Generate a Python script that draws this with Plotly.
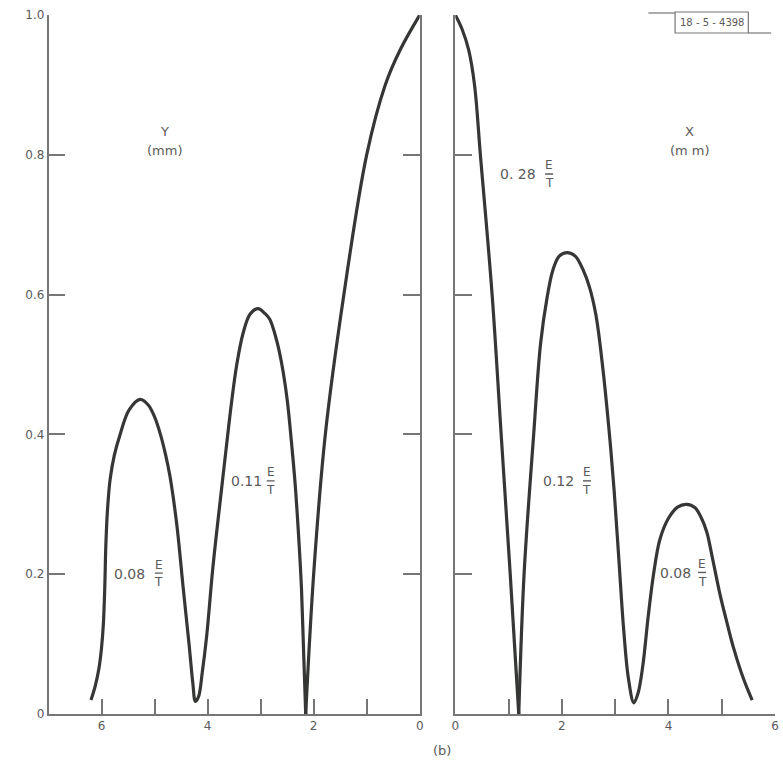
import plotly.graph_objects as go

# Relative amplitude profiles along the two transverse directions
Y_DIST = [6.20, 6.12, 6.05, 6.00, 5.965, 5.94, 5.92, 5.89, 5.84, 5.76, 5.65, 5.48, 5.27,
          5.12, 5.00, 4.89, 4.79, 4.71, 4.58, 4.46, 4.35, 4.28, 4.23, 4.17, 4.10, 4.02,
          3.90, 3.77, 3.65, 3.55, 3.45, 3.33, 3.20, 3.05, 2.92, 2.83, 2.70, 2.60, 2.50,
          2.42, 2.35, 2.28, 2.23, 2.19, 2.15, 2.00, 1.78, 1.43, 1.00, 0.65, 0.37, 0.0]
Y_AMP = [0.02, 0.04, 0.065, 0.095, 0.13, 0.18, 0.24, 0.29, 0.335, 0.37, 0.40, 0.435, 0.45,
         0.442, 0.425, 0.40, 0.37, 0.34, 0.27, 0.18, 0.10, 0.045, 0.018, 0.025, 0.06, 0.11,
         0.21, 0.30, 0.38, 0.445, 0.50, 0.545, 0.572, 0.58, 0.573, 0.565, 0.535, 0.50, 0.45,
         0.39, 0.33, 0.25, 0.18, 0.09, 0.0, 0.20, 0.40, 0.60, 0.80, 0.90, 0.95, 1.0]

X_DIST = [0.0, 0.125, 0.25, 0.36, 0.47, 0.69, 0.86, 1.03, 1.19, 1.29, 1.47, 1.60, 1.72,
          1.83, 1.95, 2.10, 2.25, 2.40, 2.52, 2.64, 2.76, 2.88, 2.98, 3.07, 3.16, 3.25,
          3.35, 3.43, 3.52, 3.62, 3.72, 3.84, 4.00, 4.17, 4.34, 4.50, 4.62, 4.72, 4.82,
          4.97, 5.10, 5.22, 5.41, 5.57]
X_AMP = [1.0, 0.98, 0.95, 0.90, 0.80, 0.60, 0.40, 0.20, 0.0, 0.20, 0.40, 0.53, 0.595,
         0.635, 0.655, 0.66, 0.655, 0.635, 0.61, 0.57, 0.50, 0.41, 0.32, 0.22, 0.12, 0.05,
         0.016, 0.03, 0.07, 0.14, 0.20, 0.25, 0.28, 0.296, 0.30, 0.295, 0.28, 0.26, 0.225,
         0.17, 0.13, 0.095, 0.05, 0.02]

Y_TICKS = [0, 0.2, 0.4, 0.6, 0.8, 1.0]
Y_TICK_TEXT = ["0", "0.2", "0.4", "0.6", "0.8", "1.0"]
DIST_TICKS = [0, 1, 2, 3, 4, 5, 6]
DIST_TICK_TEXT = ["0", "", "2", "", "4", "", "6"]

# Lobe labels: (text, x of number, x of fraction, y)
Y_LABELS = [("0.08", 5.47, 4.92, 0.201), ("0.11", 3.27, 2.81, 0.333)]
X_LABELS = [("0. 28", 1.17, 1.76, 0.772), ("0.12", 1.93, 2.47, 0.333), ("0.08", 4.14, 4.63, 0.202)]

W, H = 783, 762
TOP, BOTTOM = 15, 714
CURVE = "#353735"
AXIS = "#767676"
TEXT = "#5a5a5a"
FONT = "DejaVu Sans"


def px(x):
    return x / W


def py(y):
    return (BOTTOM - y) / (BOTTOM - TOP)


def segments(xs, ys):
    """Split a profile at its zero crossings so the cusps stay sharp."""
    parts, start = [], 0
    for i, v in enumerate(ys):
        if v == 0 and 0 < i < len(ys) - 1:
            parts.append((xs[start:i + 1], ys[start:i + 1]))
            start = i
    parts.append((xs[start:], ys[start:]))
    return parts


fig = go.Figure()
for (dist, amp), (xa, ya) in [((Y_DIST, Y_AMP), ("x", "y")), ((X_DIST, X_AMP), ("x2", "y2"))]:
    for sx, sy in segments(dist, amp):
        fig.add_trace(go.Scatter(
            x=sx, y=sy, xaxis=xa, yaxis=ya, mode="lines",
            line=dict(color=CURVE, width=3.2, shape="spline", smoothing=1.0),
            hoverinfo="skip", showlegend=False))

axis_common = dict(showgrid=False, zeroline=False, showline=True, linecolor=AXIS,
                   linewidth=1.5, ticks="inside", tickcolor=AXIS, tickwidth=1.5,
                   tickfont=dict(family=FONT, size=12, color=TEXT), fixedrange=True)

fig.update_layout(
    width=W, height=H, plot_bgcolor="white", paper_bgcolor="white",
    margin=dict(l=0, r=0, t=TOP, b=H - BOTTOM),
    showlegend=False,
    xaxis=dict(domain=[px(45), px(420)], range=[7, 0], tickvals=DIST_TICKS,
               ticktext=DIST_TICK_TEXT, ticklen=15, anchor="y", **axis_common),
    yaxis=dict(domain=[0, 1], range=[0, 1], tickvals=Y_TICKS, ticktext=Y_TICK_TEXT,
               ticklen=17, mirror="ticks", anchor="x", **axis_common),
    xaxis2=dict(domain=[px(456), px(779)], range=[0, 6], tickvals=DIST_TICKS,
                ticktext=DIST_TICK_TEXT, ticklen=15, anchor="y2", **axis_common),
    yaxis2=dict(domain=[0, 1], range=[0, 1], tickvals=Y_TICKS, showticklabels=False,
                ticklen=17, anchor="x2", **axis_common),
)

annotations = []
shapes = []


def label(text, x, y, xref, yref, size=12):
    annotations.append(dict(text=text, x=x, y=y, xref=xref, yref=yref, showarrow=False,
                            xanchor="center", yanchor="middle",
                            font=dict(family=FONT, size=size, color=TEXT)))


def lobe_label(text, xn, xf, y, xref, yref):
    label(text, xn, y, xref, yref, size=14)
    label("E", xf, y + 0.0128, xref, yref, size=12)
    label("T", xf, y - 0.0128, xref, yref, size=12)
    half = 0.075
    shapes.append(dict(type="line", xref=xref, yref=yref, x0=xf - half, x1=xf + half,
                       y0=y + 0.0005, y1=y + 0.0005, line=dict(color=TEXT, width=1.4)))


# direction captions
label("Y", 4.82, 0.834, "x", "y", size=13)
label("(mm)", 4.82, 0.806, "x", "y", size=13)
label("X", 4.40, 0.834, "x2", "y2", size=13)
label("(m m)", 4.40, 0.806, "x2", "y2", size=13)

for text, xn, xf, y in Y_LABELS:
    lobe_label(text, xn, xf, y, "x", "y")
for text, xn, xf, y in X_LABELS:
    lobe_label(text, xn, xf, y, "x2", "y2")

# panel caption
label("(b)", px(443), py(750), "paper", "paper", size=13)

# drawing number stamp
shapes.append(dict(type="line", xref="paper", yref="paper", x0=px(651), x1=px(678),
                   y0=py(13), y1=py(13), line=dict(color=AXIS, width=1.2)))
shapes.append(dict(type="rect", xref="paper", yref="paper", x0=px(678), x1=px(752),
                   y0=py(33), y1=py(12), line=dict(color=AXIS, width=1.2)))
shapes.append(dict(type="line", xref="paper", yref="paper", x0=px(752), x1=px(775),
                   y0=py(33), y1=py(33), line=dict(color=AXIS, width=1.2)))
label("18 - 5 - 4398", px(715), py(23), "paper", "paper", size=10)

fig.update_layout(annotations=annotations, shapes=shapes)
fig.write_html("out.html")
